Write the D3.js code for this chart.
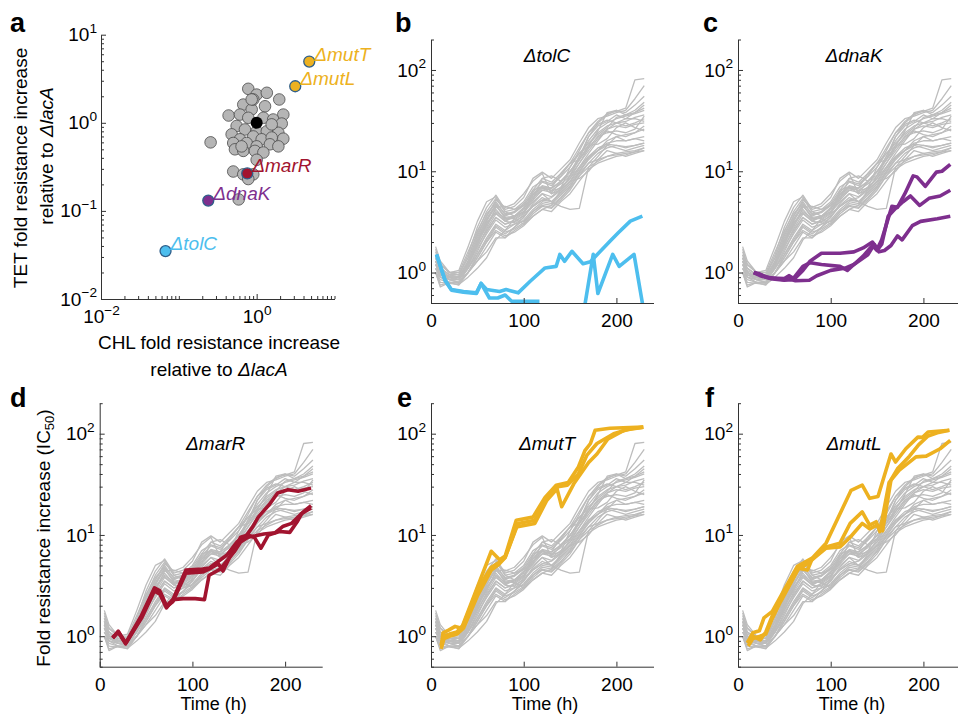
<!DOCTYPE html>
<html lang="en">
<head>
<meta charset="utf-8">
<title>resistance evolution</title>
<script src="https://cdn.jsdelivr.net/npm/d3@7"></script>
<style>
  body { margin: 0; background: #fff; }
  svg { font-family: "Liberation Sans", Arial, Helvetica, sans-serif; }
</style>
</head>
<body>
<script>
const W = 958, H = 716;

// ---- panel a: single-mutant fold change (CHL vs TET) ----
const grayChl = [0.78, 1.0, 1.35, 1.95, 0.673, 0.863, 1.28, 2.2, 0.436, 0.61, 0.78, 1.22, 1.63, 2.1,
  0.553, 0.707, 1.0, 1.35, 1.9, 0.477, 0.61, 0.904, 1.16, 1.56, 2.2, 0.256, 0.5, 0.743, 1.0, 1.48,
  1.9, 0.526, 0.673, 0.95, 1.22, 1.0, 0.5, 0.673, 0.904, 0.587, 0.78, 0.904, 0.863, 1.56, 0.64];
const grayTet = [2.43, 2.09, 2.19, 1.84, 1.61, 1.42, 1.54, 1.24, 1.21, 1.24, 1.14, 1.14, 1.09, 0.98,
  0.92, 0.84, 0.8, 0.8, 0.77, 0.74, 0.65, 0.7, 0.65, 0.68, 0.66, 0.6, 0.59, 0.59, 0.54, 0.57,
  0.54, 0.5, 0.48, 0.48, 0.46, 0.38, 0.28, 0.26, 0.26, 0.135, 0.23, 1.84, 1.84, 0.96, 0.54];

const mutants = ["\u0394mutT", "\u0394mutL", "\u0394marR", "\u0394dnaK", "\u0394tolC"];
const mutantChl = [4.74, 3.13, 0.757, 0.239, 0.0675];
const mutantTet = [4.96, 2.6, 0.266, 0.131, 0.035];
const mutantColor = ["#EDB120", "#EDB120", "#A2142F", "#7E2F8E", "#4DBEEE"];
const refChl = 1.0, refTet = 1.0;

// ---- panels b-f: lacA background runs, fold increase vs time (h) ----
const grayTimes = [5, 10, 20, 30, 40, 50, 60, 70, 80, 90, 100, 110, 120, 130, 140, 150, 160, 170, 180, 190, 200, 210, 220, 230];
const grayRuns = [
  [1.3, 1.1, 0.95, 0.9, 1.3, 2.3, 3.6, 5.0, 3.7, 3.9, 4.6, 6.2, 7.8, 7.2, 8.8, 11, 16, 24, 31, 37, 39, 42, 80, 82],
  [1.6, 1.2, 1.0, 0.95, 1.5, 2.8, 4.4, 5.8, 4.2, 4.5, 5.5, 8.5, 9.8, 8.5, 10.5, 13, 19, 27, 33, 35, 38, 40, 52, 70],
  [1.1, 0.9, 0.85, 0.8, 1.1, 1.6, 2.5, 3.5, 3.0, 3.2, 3.6, 4.5, 5.2, 5.5, 6.5, 8, 11, 15, 20, 26, 30, 33, 38, 45],
  [1.4, 1.0, 0.9, 0.85, 1.2, 1.9, 3.0, 4.2, 3.3, 3.5, 4.0, 5.2, 6.5, 6.2, 7.8, 9.8, 14, 20, 26, 30, 33, 35, 37, 40],
  [1.0, 0.75, 0.8, 0.8, 1.0, 1.3, 1.8, 2.5, 2.2, 2.6, 3.0, 3.8, 4.5, 4.3, 5.2, 6.5, 9.0, 12, 15, 17, 18, 17, 18, 19],
  [1.2, 1.0, 0.9, 0.9, 1.2, 2.0, 3.2, 4.6, 3.5, 3.6, 4.2, 5.8, 7.0, 6.0, 7.0, 8.5, 11, 14, 16, 18, 17, 16, 17, 18],
  [1.5, 1.1, 0.95, 0.95, 1.4, 2.5, 4.0, 5.4, 4.0, 4.2, 5.0, 7.0, 8.0, 7.5, 9.0, 12, 17, 24, 29, 32, 30, 28, 30, 33],
  [1.0, 0.72, 0.8, 0.75, 1.0, 1.4, 2.0, 2.8, 2.4, 2.8, 3.3, 4.2, 5.0, 4.8, 5.8, 7.2, 9.5, 12, 13, 14, 14.5, 15, 15.5, 16],
  [1.3, 1.0, 0.9, 0.9, 1.2, 1.8, 2.7, 3.8, 3.2, 3.6, 4.3, 5.5, 6.8, 6.5, 7.5, 9, 12, 16, 21, 25, 23, 22, 24, 26],
  [1.1, 0.95, 0.85, 0.85, 1.1, 1.7, 2.4, 3.3, 2.8, 3.0, 3.5, 4.6, 5.5, 5.0, 6.0, 7.5, 10, 13.5, 16, 19, 20, 20, 21, 22],
  [1.7, 1.2, 1.0, 1.0, 1.6, 2.6, 3.8, 4.8, 3.8, 4.0, 4.8, 6.5, 8.5, 7.8, 9.5, 12, 15, 19, 23, 27, 34, 36, 38, 42],
  [1.2, 1.0, 0.9, 0.85, 1.1, 1.5, 2.2, 3.0, 2.6, 3.0, 3.2, 4.0, 4.8, 4.6, 5.5, 6.8, 9.0, 11, 12.5, 14, 15, 15.5, 16, 17],
  [1.0, 0.9, 0.8, 0.8, 1.0, 1.3, 1.6, 2.2, 2.2, 2.8, 3.5, 4.8, 6.0, 5.0, 4.5, 4.2, 4.3, 11, 14, 18, 22, 20, 21, 20],
  [1.4, 1.1, 0.95, 0.9, 1.3, 2.1, 3.3, 4.5, 3.6, 4.0, 4.6, 6.0, 7.2, 6.8, 8.0, 10, 13, 17, 22, 26, 28, 27, 29, 30],
  [1.3, 1.0, 0.85, 0.85, 1.2, 2.2, 3.4, 4.7, 3.4, 3.4, 3.9, 5.0, 6.0, 5.6, 6.8, 8.5, 12, 17, 22, 24, 25, 24, 26, 35],
  [1.2, 0.95, 0.9, 0.9, 1.2, 1.8, 2.6, 3.5, 3.0, 3.3, 3.8, 4.5, 5.2, 5.0, 6.2, 7.8, 10.5, 14, 17, 18.5, 18, 17.5, 18, 19],
  [1.5, 1.2, 1.0, 0.95, 1.4, 2.4, 3.6, 5.2, 4.4, 4.8, 6.0, 8.0, 9.5, 6.0, 6.5, 9.0, 14, 22, 30, 36, 40, 38, 45, 55],
  [1.1, 0.9, 0.85, 0.8, 1.0, 1.4, 2.0, 2.6, 2.3, 2.5, 2.9, 3.6, 4.2, 4.0, 5.0, 6.0, 8.0, 10.5, 12, 13, 14, 14.5, 15.5, 17],
  [1.3, 1.0, 0.9, 0.9, 1.2, 2.0, 2.9, 4.0, 3.4, 3.6, 4.4, 5.8, 7.0, 6.8, 7.8, 10, 13, 18, 24, 28, 30, 31, 34, 36],
  [1.0, 0.85, 0.8, 0.78, 1.0, 1.5, 2.1, 2.9, 2.5, 2.7, 3.1, 4.0, 4.6, 4.4, 5.4, 7.0, 9.8, 13, 16, 20, 22, 23, 24, 28],
  [1.8, 1.3, 1.0, 1.05, 1.8, 3.2, 5.0, 5.6, 4.0, 3.6, 4.0, 5.5, 6.5, 6.8, 9.5, 12, 13, 18, 25, 38, 40, 36, 40, 48],
  [1.0, 0.8, 0.78, 0.76, 0.9, 1.1, 1.4, 2.1, 2.6, 3.4, 3.0, 3.6, 4.2, 4.6, 6.5, 8.0, 8.5, 10, 13, 16, 15, 14, 15, 16],
  [1.2, 0.95, 0.88, 0.86, 1.15, 1.9, 3.1, 3.9, 3.2, 3.1, 3.7, 6.5, 7.0, 6.4, 6.8, 11, 15, 18, 18.5, 21, 27, 30, 27, 25],
  [1.4, 1.05, 0.92, 0.9, 1.25, 2.0, 2.8, 4.4, 4.5, 4.2, 4.6, 5.2, 8.5, 9.0, 8.0, 9.2, 13, 22, 28, 31, 36, 33, 33, 31]
];

// highlighted runs: [time (h), fold increase]
const tolcRuns = [
  [[6, 1.51], [15, 0.85], [22, 0.68], [35, 0.65], [49, 0.63], [54, 0.78], [60, 0.68], [74, 0.65], [81, 0.68], [94, 0.63],
   [107, 0.82], [123, 1.11], [135, 1.15], [139, 1.51], [144, 1.29], [152, 1.62], [164, 1.22], [172, 1.28], [193, 2.04],
   [202, 2.47], [215, 3.22], [228, 3.61]],
  [[6, 1.5], [15, 0.84], [22, 0.67], [35, 0.64], [49, 0.62], [54, 0.78], [63, 0.56], [72, 0.56], [80, 0.6], [87, 0.52],
   [97, 0.52], [117, 0.52]],
  [[163, 0.3], [166, 0.48], [175, 1.51], [180, 0.62], [196, 1.51], [203, 1.15], [219, 1.51], [228, 0.5], [232, 0.3]]
];
const dnakRuns = [
  [[17, 1.0], [24, 0.95], [35, 0.88], [50, 0.87], [55, 0.93], [60, 0.85], [70, 1.05], [78, 1.3], [90, 1.55], [110, 1.55],
   [125, 1.6], [135, 1.75], [145, 2.0], [150, 1.7], [155, 2.1], [166, 4.5], [172, 4.4], [180, 6.0], [189, 9.0], [193, 8.8],
   [202, 7.1], [214, 9.8], [220, 10], [229, 11.7]],
  [[17, 1.0], [22, 0.98], [30, 0.9], [50, 0.85], [55, 0.92], [60, 0.88], [70, 1.15], [78, 1.25], [90, 1.2], [110, 1.15],
   [118, 1.05], [125, 1.2], [135, 1.45], [145, 1.85], [150, 1.65], [155, 1.9], [162, 3.6], [170, 4.3], [178, 5.0],
   [186, 5.7], [196, 4.6], [206, 5.4], [218, 5.7], [229, 6.5]],
  [[17, 1.0], [24, 0.93], [35, 0.87], [50, 0.84], [58, 0.85], [62, 0.83], [77, 0.84], [85, 0.93], [100, 1.05], [115, 1.1],
   [125, 1.2], [140, 1.5], [147, 1.9], [152, 1.6], [158, 1.65], [165, 1.85], [172, 2.3], [177, 2.1], [188, 2.9],
   [197, 3.2], [215, 3.4], [229, 3.6]]
];
const marrRuns = [
  [[14, 0.96], [20, 1.12], [28, 0.86], [45, 1.6], [59, 3.0], [65, 2.8], [72, 2.0], [79, 2.3], [93, 4.5], [111, 4.6],
   [118, 4.7], [128, 5.5], [137, 6.3], [148, 8.5], [158, 9.8], [165, 12], [171, 15], [183, 20], [192, 26], [203, 28],
   [214, 27], [228, 29]],
  [[14, 0.96], [20, 1.1], [28, 0.84], [45, 1.55], [59, 2.9], [65, 2.7], [72, 1.95], [79, 2.2], [93, 4.2], [111, 4.3],
   [118, 4.6], [128, 5.2], [133, 4.4], [140, 6.0], [152, 9.5], [160, 10], [167, 9.4], [174, 7.4], [182, 10], [194, 10.8],
   [205, 10.6], [213, 13.5], [218, 16.3], [228, 18.5]],
  [[14, 0.97], [20, 1.1], [28, 0.85], [45, 1.5], [59, 2.8], [65, 2.6], [72, 1.9], [79, 2.3], [90, 2.35], [103, 2.35],
   [113, 2.3], [118, 4.0], [130, 4.6], [145, 6.8], [152, 8.5], [160, 9.5], [168, 9.8], [177, 10.2], [189, 10.5],
   [198, 12.2], [207, 13], [220, 17], [228, 19.5]]
];
const muttRuns = [
  [[11, 0.8], [13, 1.08], [19, 1.15], [26, 1.25], [33, 1.2], [65, 6.9], [74, 5.7], [80, 6.2], [92, 14], [110, 15],
   [123, 23.5], [135, 31], [148, 33], [159, 47], [166, 68], [172, 80], [177, 108], [193, 113], [229, 116]],
  [[11, 0.75], [14, 0.95], [20, 1.0], [28, 1.05], [35, 1.2], [50, 2.5], [65, 4.5], [73, 5.1], [80, 6.0], [92, 12],
   [112, 13], [125, 22], [136, 28.5], [141, 19], [154, 32], [170, 52], [179, 63], [191, 89], [208, 108], [229, 116]],
  [[11, 0.82], [14, 1.0], [20, 1.05], [28, 1.1], [35, 1.3], [50, 2.9], [65, 4.8], [73, 5.3], [80, 6.0], [94, 13],
   [112, 14], [125, 23], [137, 30], [147, 31], [159, 40], [168, 61], [179, 80], [197, 100], [215, 112], [229, 116]]
];
const mutlRuns = [
  [[10, 0.86], [16, 1.08], [23, 1.13], [28, 1.52], [37, 1.76], [46, 2.47], [64, 4.9], [80, 5.9], [95, 8.3], [122, 27.6],
   [134, 31], [142, 23], [151, 24], [165, 63], [170, 52.5], [181, 71], [194, 92.5], [199, 92], [205, 104], [228, 108]],
  [[11, 0.85], [16, 1.0], [24, 0.92], [30, 1.1], [37, 1.6], [46, 2.3], [65, 4.7], [75, 4.5], [80, 5.8], [95, 7.6],
   [110, 8.3], [121, 13], [134, 16.9], [142, 12.5], [149, 13.5], [153, 10.8], [163, 33], [174, 43.6], [192, 59],
   [203, 60], [218, 71], [229, 86]],
  [[11, 0.8], [16, 0.95], [24, 1.0], [30, 1.05], [37, 1.5], [46, 2.2], [65, 4.6], [75, 5.2], [82, 5.9], [95, 7.4],
   [110, 7.6], [121, 9.5], [134, 13], [142, 11.5], [150, 12.5], [156, 11], [165, 35], [172, 45], [185, 60], [195, 78],
   [205, 95], [215, 102], [228, 108]]
];

const AXIS = "#333";
const FS = 19;
const svg = d3.select("body").append("svg")
  .attr("width", W)
  .attr("height", H);

// put "10" + superscript exponent on log tick labels
function powerLabels(g) {
  g.selectAll(".tick text").each(function (d) {
    const e = Math.round(Math.log10(d));
    const t = d3.select(this);
    t.text("10");
    t.append("tspan")
      .attr("dy", "-0.6em")
      .attr("font-size", "0.72em")
      .text(e < 0 ? "\u2212" + (-e) : e);
  });
}

function styleAxis(g) {
  g.select(".domain").attr("stroke", AXIS);
  g.selectAll(".tick line").attr("stroke", AXIS);
  g.selectAll(".tick text").attr("fill", "#000").attr("font-size", FS);
}

function isPow10(v) {
  const l = Math.log10(v);
  return Math.abs(l - Math.round(l)) < 1e-9;
}

function panelLetter(txt, x, y) {
  svg.append("text")
    .attr("x", x).attr("y", y)
    .attr("font-size", 27)
    .attr("font-weight", "bold")
    .text(txt);
}

// ---------- panel a ----------
initScatter();
function initScatter() {
  const x = d3.scaleLog().domain([0.01, 10]).range([101, 334.5]);
  const y = d3.scaleLog().domain([0.01, 10]).range([299, 34.7]);
  const g = svg.append("g");

  const gx = g.append("g").attr("transform", "translate(0,299)")
    .call(d3.axisBottom(x).tickValues([0.01, 1]).tickSize(-5).tickSizeOuter(0).tickPadding(11));
  styleAxis(gx); powerLabels(gx);
  g.append("g").attr("transform", "translate(0,299)")
    .call(d3.axisBottom(x).tickValues(x.ticks().filter(v => v !== 0.01 && v !== 1)).tickSize(-3).tickSizeOuter(0).tickFormat(""))
    .call(s => { s.select(".domain").remove(); s.selectAll("line").attr("stroke", AXIS); });

  const gy = g.append("g").attr("transform", "translate(101,0)")
    .call(d3.axisLeft(y).tickValues([0.01, 0.1, 1, 10]).tickSize(-5).tickSizeOuter(0).tickPadding(4));
  styleAxis(gy); powerLabels(gy);
  g.append("g").attr("transform", "translate(101,0)")
    .call(d3.axisLeft(y).tickValues(y.ticks().filter(v => !isPow10(v))).tickSize(-3).tickSizeOuter(0).tickFormat(""))
    .call(s => { s.select(".domain").remove(); s.selectAll("line").attr("stroke", AXIS); });

  g.append("g").selectAll("circle")
    .data(grayChl.map((c, i) => [c, grayTet[i]]))
    .join("circle")
    .attr("cx", d => x(d[0]))
    .attr("cy", d => y(d[1]))
    .attr("r", 5.8)
    .attr("fill", "#B5B5B5")
    .attr("stroke", "#4a4a4a")
    .attr("stroke-width", 0.8);

  g.append("circle")
    .attr("cx", x(refChl)).attr("cy", y(refTet))
    .attr("r", 6).attr("fill", "#000");

  const mg = g.append("g").selectAll("g")
    .data(mutants.map((m, i) => ({ m, c: mutantChl[i], t: mutantTet[i], col: mutantColor[i] })))
    .join("g");
  mg.append("circle")
    .attr("cx", d => x(d.c))
    .attr("cy", d => y(d.t))
    .attr("r", 5.5)
    .attr("fill", d => d.col)
    .attr("stroke", "#2f5f8a")
    .attr("stroke-width", 1.3);
  mg.append("text")
    .attr("x", d => x(d.c) + 5)
    .attr("y", d => y(d.t) - 1)
    .attr("font-size", 19)
    .attr("font-style", "italic")
    .attr("fill", d => d.col)
    .text(d => d.m);

  // axis titles
  g.append("text").attr("font-size", FS).attr("text-anchor", "middle")
    .attr("transform", "translate(27,168) rotate(-90)")
    .text("TET fold resistance increase");
  const yt2 = g.append("text").attr("font-size", FS).attr("text-anchor", "middle")
    .attr("transform", "translate(53,156) rotate(-90)");
  yt2.append("tspan").text("relative to ");
  yt2.append("tspan").attr("font-style", "italic").text("\u0394lacA");

  g.append("text").attr("x", 219).attr("y", 349).attr("font-size", FS)
    .attr("text-anchor", "middle").text("CHL fold resistance increase");
  const xt2 = g.append("text").attr("x", 219).attr("y", 376).attr("font-size", FS).attr("text-anchor", "middle");
  xt2.append("tspan").text("relative to ");
  xt2.append("tspan").attr("font-style", "italic").text("\u0394lacA");
}

// ---------- panels b-f ----------
const panels = [
  { id: "b", left: 431, bottom: 303, title: "\u0394tolC", runs: tolcRuns, color: "#4DBEEE", titleY: 62, letter: [395, 32] },
  { id: "c", left: 738, bottom: 303, title: "\u0394dnaK", runs: dnakRuns, color: "#7E2F8E", titleY: 62, letter: [703, 32] },
  { id: "d", left: 99.7, bottom: 666.7, title: "\u0394marR", runs: marrRuns, color: "#A2142F", titleY: 450, letter: [10, 407], ylab: true, xlab: true },
  { id: "e", left: 431, bottom: 666.7, title: "\u0394mutT", runs: muttRuns, color: "#EDB120", titleY: 450, letter: [397, 407], xlab: true },
  { id: "f", left: 738, bottom: 666.7, title: "\u0394mutL", runs: mutlRuns, color: "#EDB120", titleY: 450, letter: [705, 407], xlab: true }
];

panelLetter("a", 10, 32);
panels.forEach(timePanel);

function timePanel(p) {
  const pw = 222.5, ph = 263.5;
  const x = d3.scaleLinear().domain([0, 240]).range([p.left, p.left + pw]);
  const y = d3.scaleLog().domain([0.5, 200]).range([p.bottom, p.bottom - ph]);
  const g = svg.append("g");

  g.append("clipPath").attr("id", "clip-" + p.id)
    .append("rect")
    .attr("x", p.left).attr("y", p.bottom - ph)
    .attr("width", pw).attr("height", ph);

  const line = d3.line().x(d => x(d[0])).y(d => y(d[1]));
  const plot = g.append("g").attr("clip-path", `url(#clip-${p.id})`);

  plot.selectAll("path.bg")
    .data(grayRuns)
    .join("path")
    .attr("class", "bg")
    .attr("d", r => line(r.map((v, i) => [grayTimes[i], v])))
    .attr("fill", "none")
    .attr("stroke", "#BDBDBD")
    .attr("stroke-width", 1.3)
    .attr("stroke-linejoin", "round");

  plot.selectAll("path.hl")
    .data(p.runs)
    .join("path")
    .attr("class", "hl")
    .attr("d", line)
    .attr("fill", "none")
    .attr("stroke", p.color)
    .attr("stroke-width", 3.6)
    .attr("stroke-linejoin", "round");

  const gx = g.append("g").attr("transform", `translate(0,${p.bottom})`)
    .call(d3.axisBottom(x).tickValues([0, 100, 200]).tickSize(-5).tickSizeOuter(0).tickPadding(11));
  styleAxis(gx);

  const gy = g.append("g").attr("transform", `translate(${p.left},0)`)
    .call(d3.axisLeft(y).tickValues([1, 10, 100]).tickSize(-5).tickSizeOuter(0).tickPadding(5));
  styleAxis(gy); powerLabels(gy);
  g.append("g").attr("transform", `translate(${p.left},0)`)
    .call(d3.axisLeft(y).tickValues(y.ticks().filter(v => !isPow10(v))).tickSize(-3).tickSizeOuter(0).tickFormat(""))
    .call(s => { s.select(".domain").remove(); s.selectAll("line").attr("stroke", AXIS); });

  g.append("text")
    .attr("x", p.left + 116).attr("y", p.titleY)
    .attr("text-anchor", "middle")
    .attr("font-size", FS)
    .attr("font-style", "italic")
    .text(p.title);

  if (p.xlab) {
    g.append("text")
      .attr("x", p.left + 114).attr("y", 710)
      .attr("text-anchor", "middle")
      .attr("font-size", 18)
      .text("Time (h)");
  }
  if (p.ylab) {
    const t = g.append("text")
      .attr("transform", "translate(50,538) rotate(-90)")
      .attr("text-anchor", "middle")
      .attr("font-size", FS);
    t.append("tspan").text("Fold resistance increase (IC");
    t.append("tspan").attr("font-size", 13).attr("dy", 4).text("50");
    t.append("tspan").attr("dy", -4).text(")");
  }

  panelLetter(p.id, p.letter[0], p.letter[1]);
}
</script>
</body>
</html>
